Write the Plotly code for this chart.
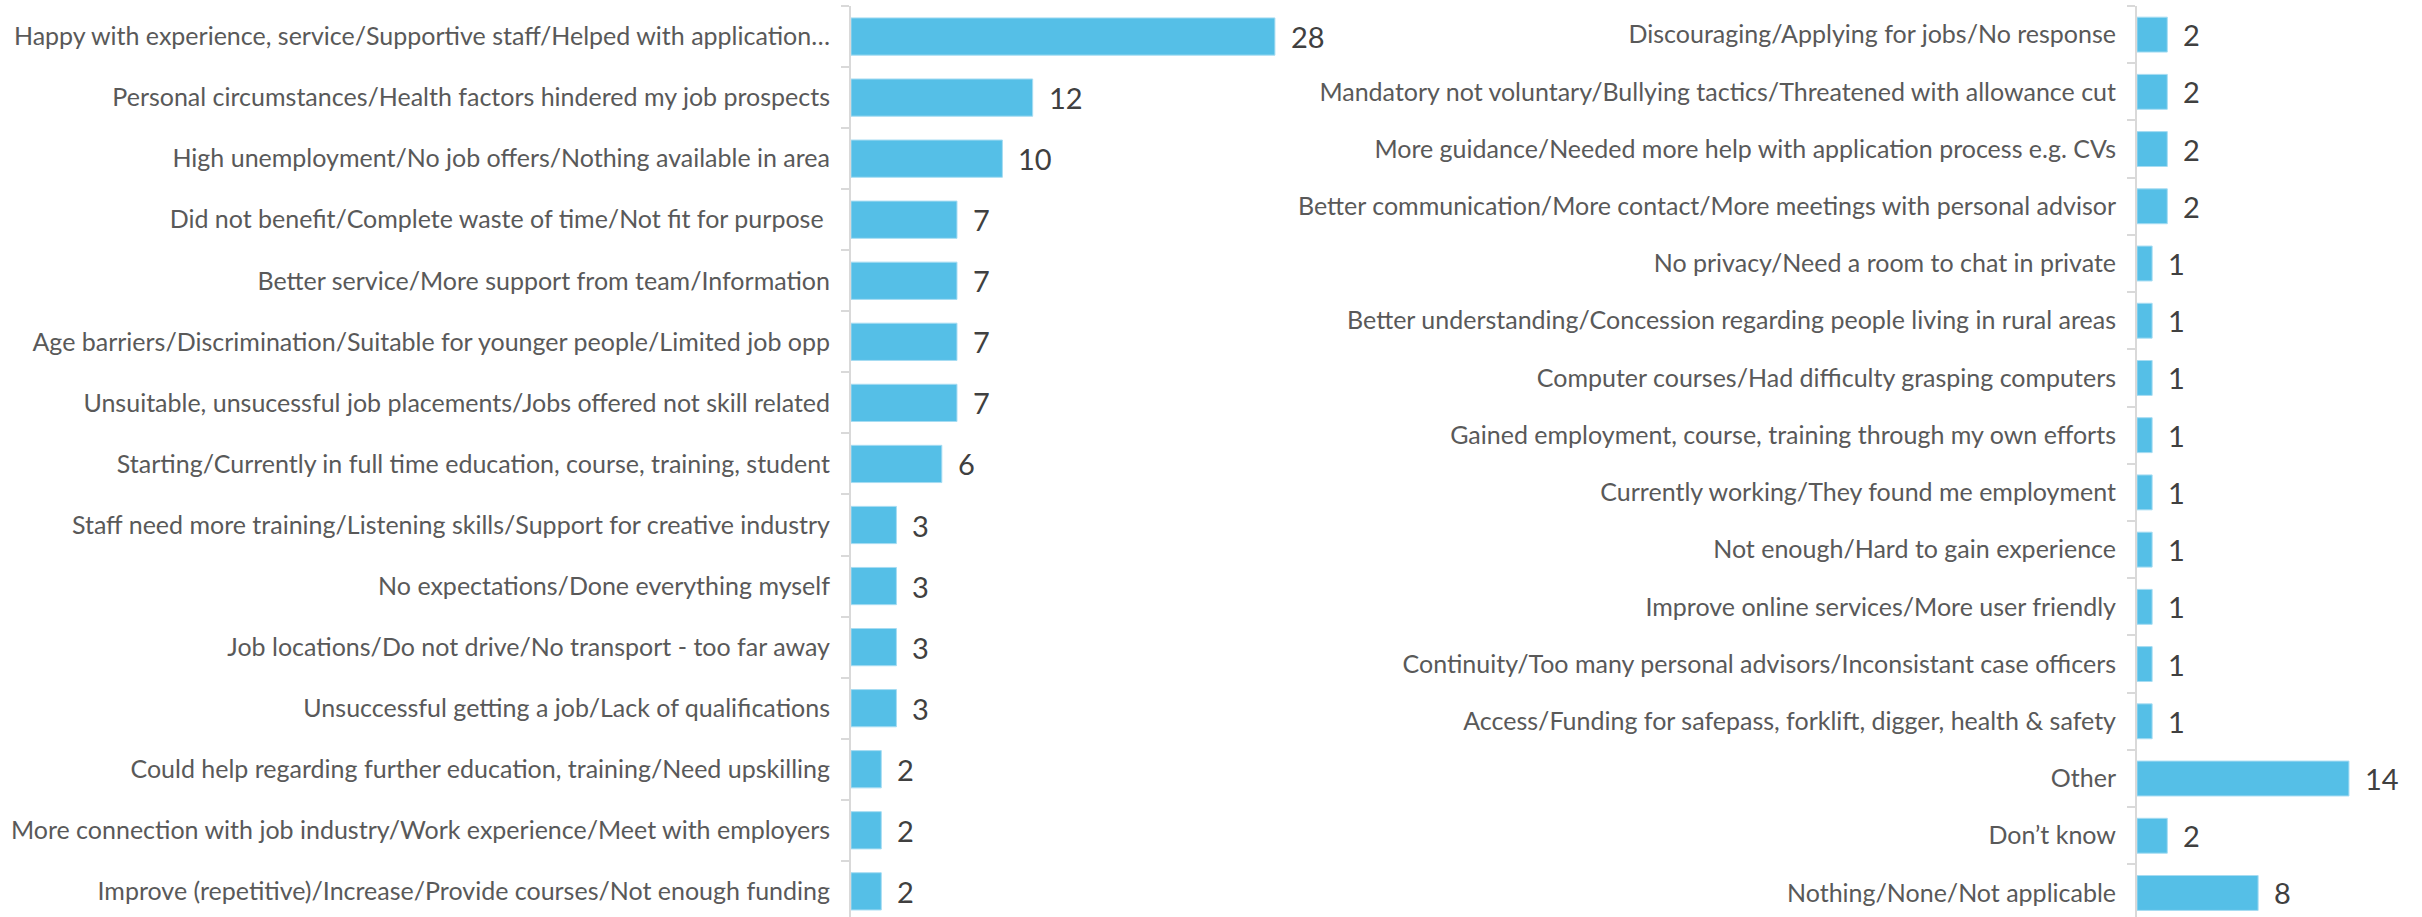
import plotly.graph_objects as go

# Left panel: responses and counts, top to bottom
left_labels = [
    "Happy with experience, service/Supportive staff/Helped with application…",
    "Personal circumstances/Health factors hindered my job prospects",
    "High unemployment/No job offers/Nothing available in area",
    "Did not benefit/Complete waste of time/Not fit for purpose ",
    "Better service/More support from team/Information",
    "Age barriers/Discrimination/Suitable for younger people/Limited job opp",
    "Unsuitable, unsucessful job placements/Jobs offered not skill related",
    "Starting/Currently in full time education, course, training, student",
    "Staff need more training/Listening skills/Support for creative industry",
    "No expectations/Done everything myself",
    "Job locations/Do not drive/No transport - too far away",
    "Unsuccessful getting a job/Lack of qualifications",
    "Could help regarding further education, training/Need upskilling",
    "More connection with job industry/Work experience/Meet with employers",
    "Improve (repetitive)/Increase/Provide courses/Not enough funding",
]
left_values = [28, 12, 10, 7, 7, 7, 7, 6, 3, 3, 3, 3, 2, 2, 2]

# Right panel: responses and counts, top to bottom
right_labels = [
    "Discouraging/Applying for jobs/No response",
    "Mandatory not voluntary/Bullying tactics/Threatened with allowance cut",
    "More guidance/Needed more help with application process e.g. CVs",
    "Better communication/More contact/More meetings with personal advisor",
    "No privacy/Need a room to chat in private",
    "Better understanding/Concession regarding people living in rural areas",
    "Computer courses/Had difficulty grasping computers",
    "Gained employment, course, training through my own efforts",
    "Currently working/They found me employment",
    "Not enough/Hard to gain experience",
    "Improve online services/More user friendly",
    "Continuity/Too many personal advisors/Inconsistant case officers",
    "Access/Funding for safepass, forklift, digger, health & safety",
    "Other",
    "Don’t know",
    "Nothing/None/Not applicable",
]
right_values = [2, 2, 2, 2, 1, 1, 1, 1, 1, 1, 1, 1, 1, 14, 2, 8]

BAR = "#55BFE7"
LABEL_FONT = "Lato, 'Open Sans', sans-serif"

fig = go.Figure()

fig.add_trace(go.Bar(
    x=left_values, y=left_labels, orientation="h",
    marker=dict(color=BAR, line=dict(color="#a6dcf2", width=1)),
    xaxis="x", yaxis="y", hoverinfo="x+y", showlegend=False,
))
fig.add_trace(go.Bar(
    x=right_values, y=right_labels, orientation="h",
    marker=dict(color=BAR, line=dict(color="#a6dcf2", width=1)),
    xaxis="x2", yaxis="y2", hoverinfo="x+y", showlegend=False,
))

# Value labels beside each bar
annotations = []
for labels, values, xa, ya in [(left_labels, left_values, "x", "y"),
                               (right_labels, right_values, "x2", "y2")]:
    for lab, val in zip(labels, values):
        annotations.append(dict(
            x=val, y=lab, xref=xa, yref=ya, text=str(val),
            showarrow=False, xanchor="left", yanchor="middle", xshift=14,
            font=dict(family=LABEL_FONT, size=29, color="#404040"),
        ))

W, H = 2422, 917
PX_PER_UNIT = 15.14
left_x0, left_x1 = 851, 1400
right_x0, right_x1 = 2137, 2422

top_margin = 6

def yaxis_cfg(labels, anchor, bottom):
    return dict(
        type="category", categoryorder="array", categoryarray=labels,
        range=[bottom, -0.5], domain=[0, 1], anchor=anchor, automargin=False,
        showline=True, linecolor="#d9d9d9", linewidth=2,
        ticks="outside", tickson="boundaries", ticklen=8, tickcolor="#d9d9d9",
        tickwidth=2, ticklabelstandoff=14, showgrid=False, zeroline=False,
        tickfont=dict(family=LABEL_FONT, size=25, color="#595959"),
    )

def xaxis_cfg(x0, x1, anchor):
    return dict(
        domain=[x0 / W, x1 / W], range=[0, (x1 - x0) / PX_PER_UNIT],
        anchor=anchor, visible=False, showgrid=False, zeroline=False,
        automargin=False,
    )

fig.update_layout(
    width=W, height=H,
    margin=dict(l=0, r=0, t=top_margin, b=0, autoexpand=False),
    paper_bgcolor="white", plot_bgcolor="white",
    bargap=0.39,
    xaxis=xaxis_cfg(left_x0, left_x1, "y"),
    xaxis2=xaxis_cfg(right_x0, right_x1, "y2"),
    yaxis=yaxis_cfg(left_labels, "x", 14.42),
    yaxis2=yaxis_cfg(right_labels, "x2", 15.42),
    annotations=annotations,
)

fig.write_html("out.html")
